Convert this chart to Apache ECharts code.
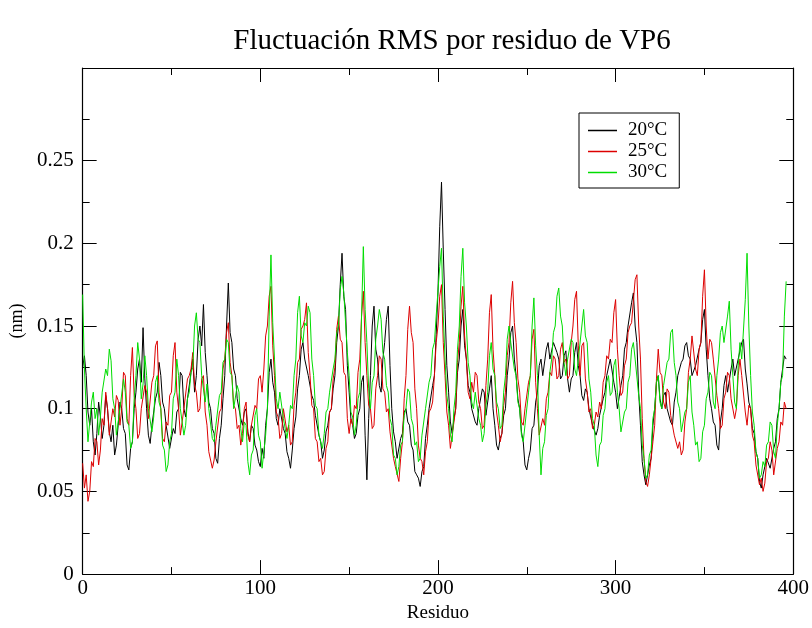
<!DOCTYPE html>
<html><head><meta charset="utf-8">
<script src="https://cdn.jsdelivr.net/npm/echarts@6/dist/echarts.min.js"></script>
<style>html,body{margin:0;padding:0;background:#fff}#c{width:812px;height:628px}</style>
</head><body><div id="c"></div>
<script>
// Residue numbers 0..396
const residues = [];
for (let r = 0; r <= 396; r++) residues.push(r);

const seriesNames = ['20°C', '25°C', '30°C'];

const t20 = [
0.125,0.132,0.12,0.098,0.09,0.1,0.08,0.072,0.085,0.104,0.095,0.082,0.09,0.108,0.1,0.086,0.08,0.09,0.072,0.078,
0.09,0.104,0.1,0.088,0.085,0.066,0.063,0.076,0.08,0.1,0.11,0.124,0.13,0.116,0.149,0.118,0.1,0.084,0.079,0.09,
0.09,0.106,0.11,0.128,0.12,0.104,0.1,0.09,0.09,0.076,0.075,0.088,0.085,0.098,0.1,0.122,0.12,0.1,0.095,0.106,
0.105,0.122,0.13,0.11,0.12,0.142,0.15,0.138,0.163,0.134,0.12,0.104,0.1,0.088,0.085,0.07,0.067,0.082,0.09,0.106,
0.12,0.15,0.176,0.146,0.14,0.124,0.12,0.106,0.105,0.094,0.09,0.098,0.1,0.086,0.08,0.09,0.088,0.078,0.075,0.068,
0.065,0.076,0.07,0.09,0.1,0.122,0.13,0.116,0.11,0.094,0.09,0.1,0.1,0.088,0.085,0.074,0.07,0.064,0.075,0.088,
0.095,0.112,0.12,0.136,0.14,0.13,0.13,0.12,0.12,0.108,0.105,0.096,0.095,0.084,0.08,0.07,0.075,0.086,0.09,0.098,
0.1,0.112,0.12,0.14,0.15,0.175,0.194,0.168,0.16,0.126,0.11,0.094,0.09,0.082,0.085,0.096,0.1,0.116,0.12,0.084,
0.057,0.094,0.12,0.15,0.162,0.136,0.13,0.114,0.11,0.13,0.14,0.154,0.162,0.126,0.1,0.086,0.08,0.07,0.07,0.082,
0.085,0.098,0.1,0.092,0.09,0.078,0.075,0.062,0.06,0.058,0.053,0.062,0.065,0.082,0.09,0.1,0.1,0.114,0.12,0.145,
0.17,0.21,0.237,0.196,0.16,0.126,0.11,0.092,0.085,0.094,0.1,0.122,0.13,0.15,0.16,0.138,0.13,0.114,0.11,0.1,
0.1,0.092,0.09,0.1,0.1,0.112,0.11,0.096,0.095,0.112,0.12,0.1,0.09,0.078,0.075,0.082,0.085,0.096,0.1,0.12,
0.13,0.146,0.15,0.13,0.12,0.106,0.1,0.086,0.08,0.066,0.063,0.07,0.075,0.088,0.09,0.104,0.11,0.126,0.13,0.12,
0.12,0.136,0.14,0.13,0.13,0.14,0.14,0.134,0.13,0.118,0.12,0.132,0.135,0.118,0.11,0.118,0.12,0.134,0.14,0.126,
0.12,0.108,0.105,0.112,0.11,0.1,0.1,0.09,0.09,0.084,0.088,0.096,0.095,0.106,0.11,0.12,0.12,0.13,0.13,0.116,
0.11,0.1,0.1,0.114,0.12,0.136,0.14,0.15,0.15,0.164,0.17,0.15,0.14,0.11,0.09,0.068,0.06,0.054,0.055,0.066,
0.07,0.09,0.1,0.116,0.12,0.106,0.1,0.108,0.11,0.1,0.1,0.092,0.09,0.104,0.11,0.12,0.12,0.128,0.13,0.138,
0.14,0.132,0.13,0.12,0.12,0.126,0.125,0.136,0.14,0.154,0.16,0.136,0.12,0.106,0.1,0.092,0.09,0.078,0.075,0.092,
0.1,0.114,0.12,0.11,0.11,0.124,0.13,0.12,0.12,0.13,0.13,0.14,0.142,0.124,0.115,0.104,0.1,0.088,0.085,0.074,
0.07,0.056,0.052,0.06,0.06,0.07,0.07,0.064,0.065,0.076,0.08,0.094,0.1,0.116,0.124,0.132,0.13
];

const t25 = [
0.067,0.052,0.06,0.044,0.05,0.068,0.065,0.082,0.08,0.066,0.075,0.094,0.09,0.11,0.1,0.084,0.085,0.1,0.095,0.108,
0.105,0.09,0.1,0.122,0.12,0.094,0.09,0.12,0.137,0.108,0.1,0.082,0.085,0.1,0.1,0.114,0.11,0.094,0.095,0.116,
0.12,0.138,0.141,0.11,0.1,0.082,0.08,0.092,0.09,0.108,0.11,0.132,0.14,0.11,0.1,0.084,0.085,0.1,0.1,0.118,
0.12,0.124,0.134,0.114,0.11,0.098,0.1,0.118,0.12,0.098,0.09,0.074,0.075,0.064,0.069,0.08,0.08,0.098,0.1,0.124,
0.13,0.146,0.152,0.128,0.12,0.102,0.1,0.088,0.09,0.078,0.085,0.1,0.104,0.084,0.08,0.09,0.09,0.102,0.1,0.118,
0.12,0.11,0.124,0.144,0.15,0.168,0.174,0.138,0.12,0.098,0.095,0.082,0.085,0.1,0.1,0.086,0.09,0.078,0.08,0.102,
0.11,0.128,0.13,0.148,0.15,0.154,0.164,0.134,0.12,0.102,0.1,0.082,0.08,0.068,0.07,0.06,0.062,0.076,0.08,0.098,
0.1,0.118,0.125,0.148,0.156,0.142,0.14,0.122,0.12,0.094,0.085,0.094,0.09,0.102,0.1,0.122,0.13,0.156,0.171,0.14,
0.12,0.102,0.1,0.088,0.09,0.112,0.12,0.132,0.13,0.112,0.11,0.098,0.1,0.086,0.085,0.07,0.065,0.064,0.056,0.07,
0.08,0.106,0.12,0.148,0.162,0.146,0.14,0.112,0.1,0.078,0.07,0.068,0.06,0.074,0.08,0.098,0.1,0.104,0.12,0.14,
0.15,0.168,0.175,0.14,0.12,0.098,0.09,0.076,0.075,0.092,0.1,0.128,0.14,0.162,0.174,0.144,0.13,0.11,0.106,0.116,
0.11,0.122,0.12,0.104,0.1,0.088,0.09,0.114,0.13,0.158,0.169,0.136,0.12,0.098,0.09,0.08,0.085,0.102,0.11,0.132,
0.14,0.164,0.177,0.152,0.14,0.118,0.11,0.092,0.09,0.1,0.1,0.116,0.12,0.142,0.148,0.116,0.1,0.084,0.085,0.094,
0.09,0.106,0.11,0.122,0.12,0.132,0.13,0.118,0.12,0.136,0.14,0.128,0.13,0.118,0.12,0.14,0.15,0.166,0.171,0.138,
0.12,0.138,0.14,0.118,0.11,0.098,0.1,0.088,0.09,0.098,0.095,0.104,0.1,0.116,0.12,0.132,0.13,0.142,0.14,0.158,
0.166,0.136,0.12,0.108,0.11,0.126,0.13,0.146,0.15,0.152,0.165,0.178,0.181,0.15,0.13,0.094,0.07,0.056,0.053,0.06,
0.06,0.08,0.09,0.118,0.136,0.122,0.12,0.104,0.1,0.112,0.11,0.096,0.095,0.084,0.085,0.076,0.08,0.072,0.075,0.092,
0.1,0.122,0.13,0.144,0.144,0.124,0.12,0.136,0.14,0.168,0.184,0.15,0.13,0.142,0.14,0.13,0.13,0.108,0.1,0.088,
0.09,0.106,0.11,0.122,0.12,0.106,0.105,0.094,0.1,0.12,0.13,0.12,0.12,0.098,0.09,0.102,0.1,0.084,0.08,0.066,
0.065,0.054,0.058,0.05,0.055,0.068,0.07,0.08,0.075,0.06,0.06,0.076,0.08,0.092,0.09,0.104,0.1
];

const t30 = [
0.169,0.124,0.1,0.08,0.08,0.104,0.11,0.094,0.1,0.084,0.095,0.11,0.11,0.124,0.12,0.136,0.129,0.106,0.1,0.084,
0.085,0.1,0.1,0.118,0.11,0.092,0.09,0.076,0.08,0.106,0.12,0.14,0.13,0.106,0.115,0.132,0.12,0.1,0.1,0.086,
0.095,0.116,0.12,0.104,0.1,0.078,0.075,0.062,0.066,0.08,0.085,0.106,0.11,0.13,0.12,0.1,0.1,0.084,0.09,0.106,
0.11,0.122,0.125,0.15,0.158,0.142,0.14,0.12,0.12,0.104,0.115,0.1,0.1,0.082,0.08,0.09,0.09,0.108,0.11,0.128,
0.13,0.142,0.14,0.122,0.12,0.1,0.1,0.114,0.11,0.088,0.08,0.092,0.09,0.068,0.06,0.072,0.075,0.096,0.1,0.084,
0.08,0.064,0.065,0.084,0.1,0.156,0.193,0.152,0.13,0.106,0.1,0.11,0.11,0.094,0.095,0.082,0.09,0.102,0.1,0.12,
0.13,0.158,0.168,0.144,0.14,0.152,0.15,0.162,0.158,0.13,0.12,0.102,0.1,0.084,0.08,0.076,0.085,0.098,0.1,0.11,
0.11,0.124,0.13,0.146,0.15,0.172,0.18,0.17,0.17,0.134,0.12,0.098,0.095,0.084,0.09,0.106,0.11,0.156,0.198,0.16,
0.14,0.112,0.1,0.116,0.12,0.142,0.15,0.16,0.154,0.134,0.13,0.114,0.11,0.094,0.09,0.072,0.07,0.06,0.065,0.078,
0.08,0.096,0.1,0.112,0.11,0.094,0.09,0.078,0.08,0.068,0.07,0.084,0.085,0.1,0.1,0.116,0.12,0.136,0.14,0.156,
0.155,0.186,0.197,0.156,0.13,0.108,0.1,0.084,0.08,0.1,0.11,0.136,0.15,0.18,0.197,0.164,0.15,0.128,0.12,0.104,
0.1,0.11,0.11,0.094,0.09,0.08,0.085,0.102,0.11,0.132,0.14,0.124,0.12,0.104,0.1,0.088,0.09,0.11,0.12,0.142,
0.15,0.14,0.14,0.124,0.12,0.104,0.1,0.084,0.08,0.09,0.09,0.11,0.12,0.15,0.167,0.138,0.12,0.084,0.06,0.076,
0.08,0.096,0.1,0.122,0.13,0.146,0.15,0.168,0.173,0.156,0.15,0.128,0.12,0.13,0.13,0.142,0.14,0.124,0.12,0.13,
0.13,0.15,0.16,0.144,0.14,0.118,0.11,0.094,0.09,0.072,0.065,0.078,0.08,0.096,0.1,0.116,0.12,0.108,0.11,0.126,
0.13,0.11,0.1,0.086,0.085,0.098,0.1,0.116,0.12,0.136,0.14,0.13,0.13,0.108,0.1,0.078,0.07,0.058,0.06,0.072,
0.075,0.094,0.1,0.116,0.12,0.104,0.1,0.114,0.115,0.128,0.13,0.146,0.148,0.128,0.12,0.104,0.1,0.086,0.085,0.098,
0.1,0.116,0.12,0.098,0.09,0.078,0.08,0.068,0.07,0.086,0.09,0.106,0.11,0.122,0.12,0.104,0.1,0.12,0.13,0.146,
0.15,0.14,0.14,0.156,0.165,0.136,0.12,0.104,0.1,0.126,0.14,0.13,0.13,0.166,0.194,0.15,0.12,0.098,0.09,0.074,
0.07,0.058,0.06,0.068,0.065,0.078,0.08,0.092,0.09,0.074,0.07,0.09,0.1,0.116,0.12,0.156,0.177
];

const xTicks = [0, 100, 200, 300, 400];
const yTicks = [0, 0.05, 0.1, 0.15, 0.2, 0.25];

const FONT = '"Liberation Serif", "DejaVu Serif", serif';
const colors = ['#000000', '#dd0000', '#00dd00'];

function pairs(vals) { return residues.map((r, i) => [r, vals[i]]); }

const chart = echarts.init(document.getElementById('c'), null, {renderer: 'canvas'});
const tickStyle = {show: true, inside: true, length: 14, lineStyle: {color: '#000', width: 1}};
const yTickStyle = Object.assign({customValues: yTicks}, tickStyle);
const minorStyle = {show: true, splitNumber: 2, length: 7, lineStyle: {color: '#000', width: 1}};
const lineStyle = {show: true, onZero: false, lineStyle: {color: '#000', width: 1.2}};

chart.setOption({
  animation: false,
  backgroundColor: '#fff',
  title: {
    text: 'Fluctuación RMS por residuo de VP6',
    left: 447, top: 22, textAlign: 'center',
    textStyle: {fontFamily: FONT, fontSize: 29, fontWeight: 'normal', color: '#000'}
  },
  legend: {
    orient: 'vertical', left: 579, top: 113,
    data: seriesNames,
    icon: 'rect',
    borderColor: '#000', borderWidth: 1, borderRadius: 0,
    padding: [8, 12, 6, 9],
    itemWidth: 29, itemHeight: 1.5, itemGap: 2,
    textStyle: {fontFamily: FONT, fontSize: 19, color: '#000', padding: [0, 0, 0, 6]}
  },
  grid: {left: 76, right: 16, top: 68, bottom: 45, containLabel: false},
  xAxis: [{
    type: 'value', min: 0, max: 400, interval: 100, position: 'bottom',
    name: 'Residuo', nameLocation: 'middle', nameGap: 23,
    nameTextStyle: {fontFamily: FONT, fontSize: 19, color: '#000'},
    axisLine: lineStyle, axisTick: tickStyle, minorTick: minorStyle,
    splitLine: {show: false},
    axisLabel: {fontFamily: FONT, fontSize: 21, color: '#000', margin: 4,
      formatter: v => xTicks.includes(v) ? String(v) : ''}
  }, {
    type: 'value', min: 0, max: 400, interval: 100, position: 'top',
    axisLine: lineStyle, axisTick: tickStyle, minorTick: minorStyle,
    splitLine: {show: false}, axisLabel: {show: false}
  }],
  yAxis: [{
    type: 'value', min: 0, max: 0.306, interval: 0.05, position: 'left',
    name: '(nm)', nameLocation: 'middle', nameGap: 49, nameRotate: 90,
    nameTextStyle: {fontFamily: FONT, fontSize: 18, color: '#000'},
    axisLine: lineStyle, axisTick: yTickStyle, minorTick: minorStyle,
    splitLine: {show: false},
    axisLabel: {fontFamily: FONT, fontSize: 21, color: '#000', margin: 9,
      customValues: yTicks,
      formatter: v => {
        const k = yTicks.find(t => Math.abs(t - v) < 1e-9);
        return k === undefined ? '' : String(k);
      }}
  }, {
    type: 'value', min: 0, max: 0.306, interval: 0.05, position: 'right',
    axisLine: lineStyle, axisTick: yTickStyle, minorTick: minorStyle,
    splitLine: {show: false}, axisLabel: {show: false}
  }],
  series: [
    {name: seriesNames[0], type: 'line', data: pairs(t20), symbol: 'none', color: colors[0], lineStyle: {width: 1}},
    {name: seriesNames[1], type: 'line', data: pairs(t25), symbol: 'none', color: colors[1], lineStyle: {width: 1}},
    {name: seriesNames[2], type: 'line', data: pairs(t30), symbol: 'none', color: colors[2], lineStyle: {width: 1}}
  ]
});
</script>
</body></html>
